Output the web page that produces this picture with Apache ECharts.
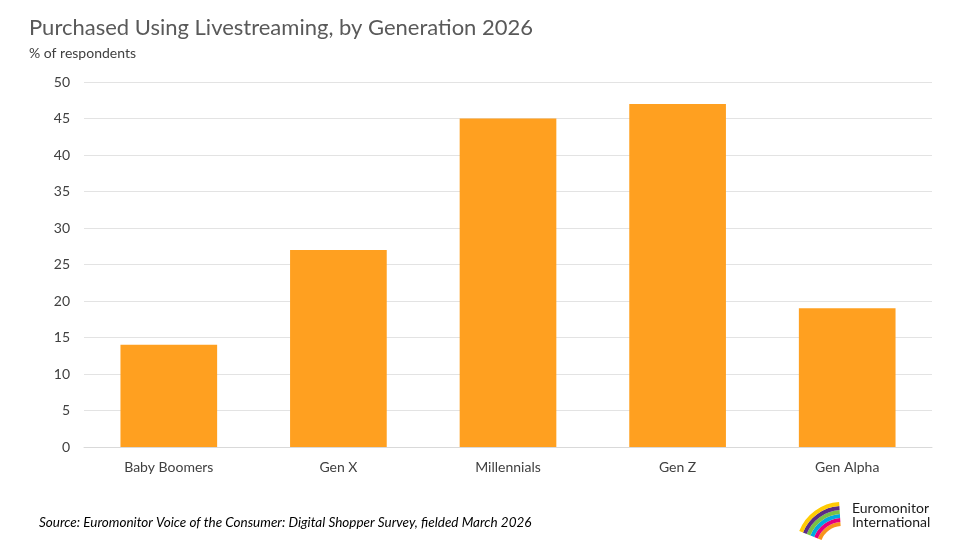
<!DOCTYPE html>
<html><head><meta charset="utf-8">
<script src="https://cdn.jsdelivr.net/npm/echarts@6/dist/echarts.min.js"></script>
<style>html,body{margin:0;padding:0;background:#fff}#c{width:960px;height:540px}</style>
</head><body><div id="c"></div>
<script>
const categories = ['Baby Boomers', 'Gen X', 'Millennials', 'Gen Z', 'Gen Alpha'];
const values = [14, 27, 45, 47, 19];
const yTicks = [0, 5, 10, 15, 20, 25, 30, 35, 40, 45, 50];

const chart = echarts.init(document.getElementById('c'));
const font = 'Lato, "Open Sans", sans-serif';
const logoColors = ['#f7941d', '#e4007c', '#00a9e0', '#7ac143', '#5b2c86', '#ffcb05'];
const arcs = [];
for (let i = 0; i < 6; i++) {
  arcs.push({
    type: 'arc', shape: { cx: 842, cy: 548, r: 24 + i * 4, startAngle: Math.PI * 1.12, endAngle: Math.PI * 1.48 },
    style: { stroke: logoColors[i], lineWidth: 4, fill: null }
  });
}
chart.setOption({
  animation: false,
  textStyle: { fontFamily: font },
  title: [
    { text: 'Purchased Using Livestreaming, by Generation 2026', left: 24, top: 12,
      textStyle: { fontSize: 22, fontWeight: 'normal', color: '#595959', fontFamily: font } },
    { text: '% of respondents', left: 24, top: 41,
      textStyle: { fontSize: 14, fontWeight: 'normal', color: '#404040', fontFamily: font } },
    { text: 'Source: Euromonitor Voice of the Consumer: Digital Shopper Survey, fielded March 2026', left: 34, top: 511,
      textStyle: { fontSize: 13.5, fontStyle: 'italic', fontWeight: 'normal', color: '#000', fontFamily: font } }
  ],
  grid: { left: 84, right: 28, top: 82, bottom: 93 },
  xAxis: {
    type: 'category', data: categories,
    axisLine: { lineStyle: { color: '#d9d9d9' } },
    axisTick: { show: false },
    axisLabel: { color: '#404040', fontSize: 14, margin: 13 }
  },
  yAxis: {
    type: 'value', min: yTicks[0], max: yTicks[yTicks.length - 1], interval: 5,
    axisLine: { show: false }, axisTick: { show: false },
    axisLabel: { color: '#404040', fontSize: 14, margin: 14 },
    splitLine: { lineStyle: { color: '#e3e3e3' } }
  },
  series: [{
    type: 'bar', data: values, barWidth: '57%',
    itemStyle: { color: '#ffa020' }
  }],
  graphic: arcs.concat([
    { type: 'text', left: 852, top: 501, style: { text: 'Euromonitor\nInternational', fill: '#1a1a1a', fontSize: 14, lineHeight: 14, fontFamily: font } }
  ])
});
</script></body></html>
